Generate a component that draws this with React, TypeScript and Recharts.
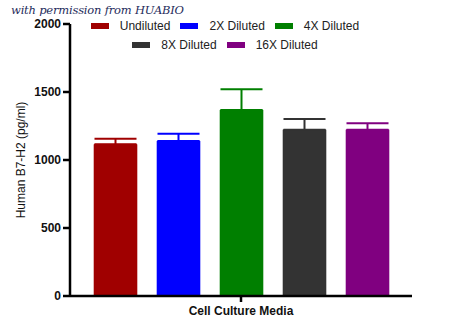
import { BarChart, Bar, XAxis, YAxis, ErrorBar, Legend } from "recharts"

// ── Data ──
const CATEGORY = "Cell Culture Media"
const SERIES = ["Undiluted", "2X Diluted", "4X Diluted", "8X Diluted", "16X Diluted"]
const MEANS = [1115, 1140, 1368, 1223, 1223]
const ERRORS = [42, 53, 152, 78, 47]
const COLORS = ["#a00000", "#0000ff", "#007f00", "#333333", "#800080"]
const Y_TICKS = [0, 500, 1000, 1500, 2000]

const row: any = { name: CATEGORY }
SERIES.forEach((_, i) => {
  row[`s${i}`] = MEANS[i]
  row[`e${i}`] = [0, ERRORS[i]]
})
const data = [row]

const FONT = "'Liberation Sans', Arial, sans-serif"

// ── Legend (two centred rows) ──
function LegendRows() {
  const rows = [SERIES.slice(0, 3), SERIES.slice(3)]
  return (
    <div style={{ fontFamily: FONT, fontSize: 12, color: "#222" }}>
      {rows.map((r, ri) => (
        <div key={ri} style={{ display: "flex", justifyContent: "center", height: 19, alignItems: "center" }}>
          {r.map((name) => {
            const i = SERIES.indexOf(name)
            return (
              <div key={name} style={{ display: "flex", alignItems: "center", margin: "0 5px" }}>
                <span style={{ width: 18, height: 6, background: COLORS[i], marginRight: 11, display: "inline-block" }} />
                <span>{name}</span>
              </div>
            )
          })}
        </div>
      ))}
    </div>
  )
}

function YLabel({ viewBox }: any) {
  const cy = viewBox.y + viewBox.height / 2
  return (
    <text x={25} y={cy} transform={`rotate(-90, 25, ${cy})`} textAnchor="middle"
      style={{ fontFamily: FONT, fontSize: 12, fill: "#111" }}>
      Human B7-H2 (pg/ml)
    </text>
  )
}

export default function App() {
  return (
    <div style={{ position: "absolute", left: 0, top: 0, width: 450, height: 336, background: "#fff" }}>
      <div style={{
        position: "absolute", left: 11, top: 3, fontFamily: "'DejaVu Serif', serif", fontStyle: "italic",
        fontSize: 11.5, color: "#1f2d5c", zIndex: 2, letterSpacing: -0.2,
      }}>
        with permission from HUABIO
      </div>
      <BarChart width={450} height={336} data={data} barSize={43} barGap={20}
        margin={{ top: 24, right: 38, left: 0, bottom: 0 }}>
        <XAxis dataKey="name" height={40} stroke="#000" strokeWidth={2.5} tickSize={6} tickMargin={4}
          tick={{ fontFamily: FONT, fontSize: 12, fontWeight: "bold", fill: "#111" }} />
        <YAxis width={70} domain={[0, 2000]} ticks={Y_TICKS} stroke="#000" strokeWidth={2.5}
          tickSize={7} tickMargin={2} interval={0}
          tick={{ fontFamily: FONT, fontSize: 12, fontWeight: "bold", fill: "#111" }}
          label={<YLabel />} />
        <Legend layout="vertical" align="center" verticalAlign="middle" content={<LegendRows />}
          wrapperStyle={{ top: 16, left: 0, width: 450 }} />
        {SERIES.map((name, i) => (
          <Bar key={name} dataKey={`s${i}`} name={name} fill={COLORS[i]} stroke={COLORS[i]}
            strokeOpacity={0.6} isAnimationActive={false}>
            <ErrorBar dataKey={`e${i}`} width={21} stroke={COLORS[i]} strokeWidth={2} direction="y" />
          </Bar>
        ))}
      </BarChart>
    </div>
  )
}
